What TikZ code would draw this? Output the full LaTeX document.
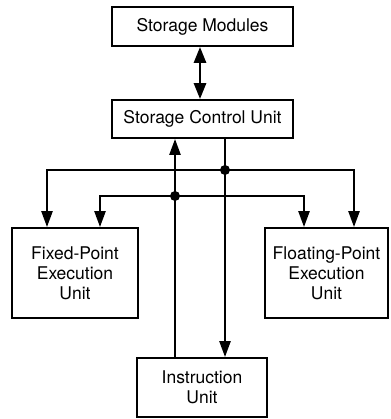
\documentclass[tikz,border=0pt]{standalone}
\usepackage{fontspec}
\setmainfont{TeX Gyre Heros}
\usetikzlibrary{arrows.meta,calc}
\begin{document}
\begin{tikzpicture}[x=1pt,y=-1pt,
  unitbox/.style={draw,line width=1.8pt,rectangle,inner sep=0pt,align=center,
    font=\fontsize{17.5}{20}\selectfont},
  link/.style={line width=2.4pt,-{Triangle[length=16pt,width=11pt]}},
  biglink/.style={line width=2.8pt,{Triangle[length=16pt,width=12pt]}-{Triangle[length=16pt,width=12pt]}},
  junction/.style={circle,fill=black,inner sep=0pt,minimum size=10pt}]
\useasboundingbox (0,0) rectangle (390,419);
% units
\node[unitbox,minimum width=181pt,minimum height=39pt] (sm) at (202.5,26.5) {Storage Modules};
\node[unitbox,minimum width=181pt,minimum height=38pt] (scu) at (202.5,119) {Storage Control Unit};
\node[unitbox,minimum width=126pt,minimum height=90pt] (fx) at (75,273) {Fixed-Point\\Execution\\Unit};
\node[unitbox,minimum width=123pt,minimum height=90pt] (fl) at (326.5,273) {Floating-Point\\Execution\\Unit};
\node[unitbox,minimum width=130pt,minimum height=59pt] (iu) at (202,387.5) {Instruction\\Unit};
% column positions
\coordinate (xa) at (175,0);
\coordinate (xb) at (225,0);
\coordinate (xfx1) at (47,0);
\coordinate (xfx2) at (100,0);
\coordinate (xfl1) at (304,0);
\coordinate (xfl2) at (354,0);
% junctions on the two buses
\node[junction] (jup) at (225,170) {};
\node[junction] (jlo) at (175,196) {};
% storage path
\draw[biglink] (sm.south -| 200,0) -- (scu.north -| 200,0);
% instruction unit to/from storage control
\draw[link] (iu.north -| xa) -- (scu.south -| xa);
\draw[link] (scu.south -| xb) -- (iu.north -| xb);
% upper bus
\draw[link] (jup.center) -| (fx.north -| xfx1);
\draw[link] (jup.center) -| (fl.north -| xfl2);
% lower bus
\draw[link] (jlo.center) -| (fx.north -| xfx2);
\draw[link] (jlo.center) -| (fl.north -| xfl1);
\end{tikzpicture}
\end{document}
